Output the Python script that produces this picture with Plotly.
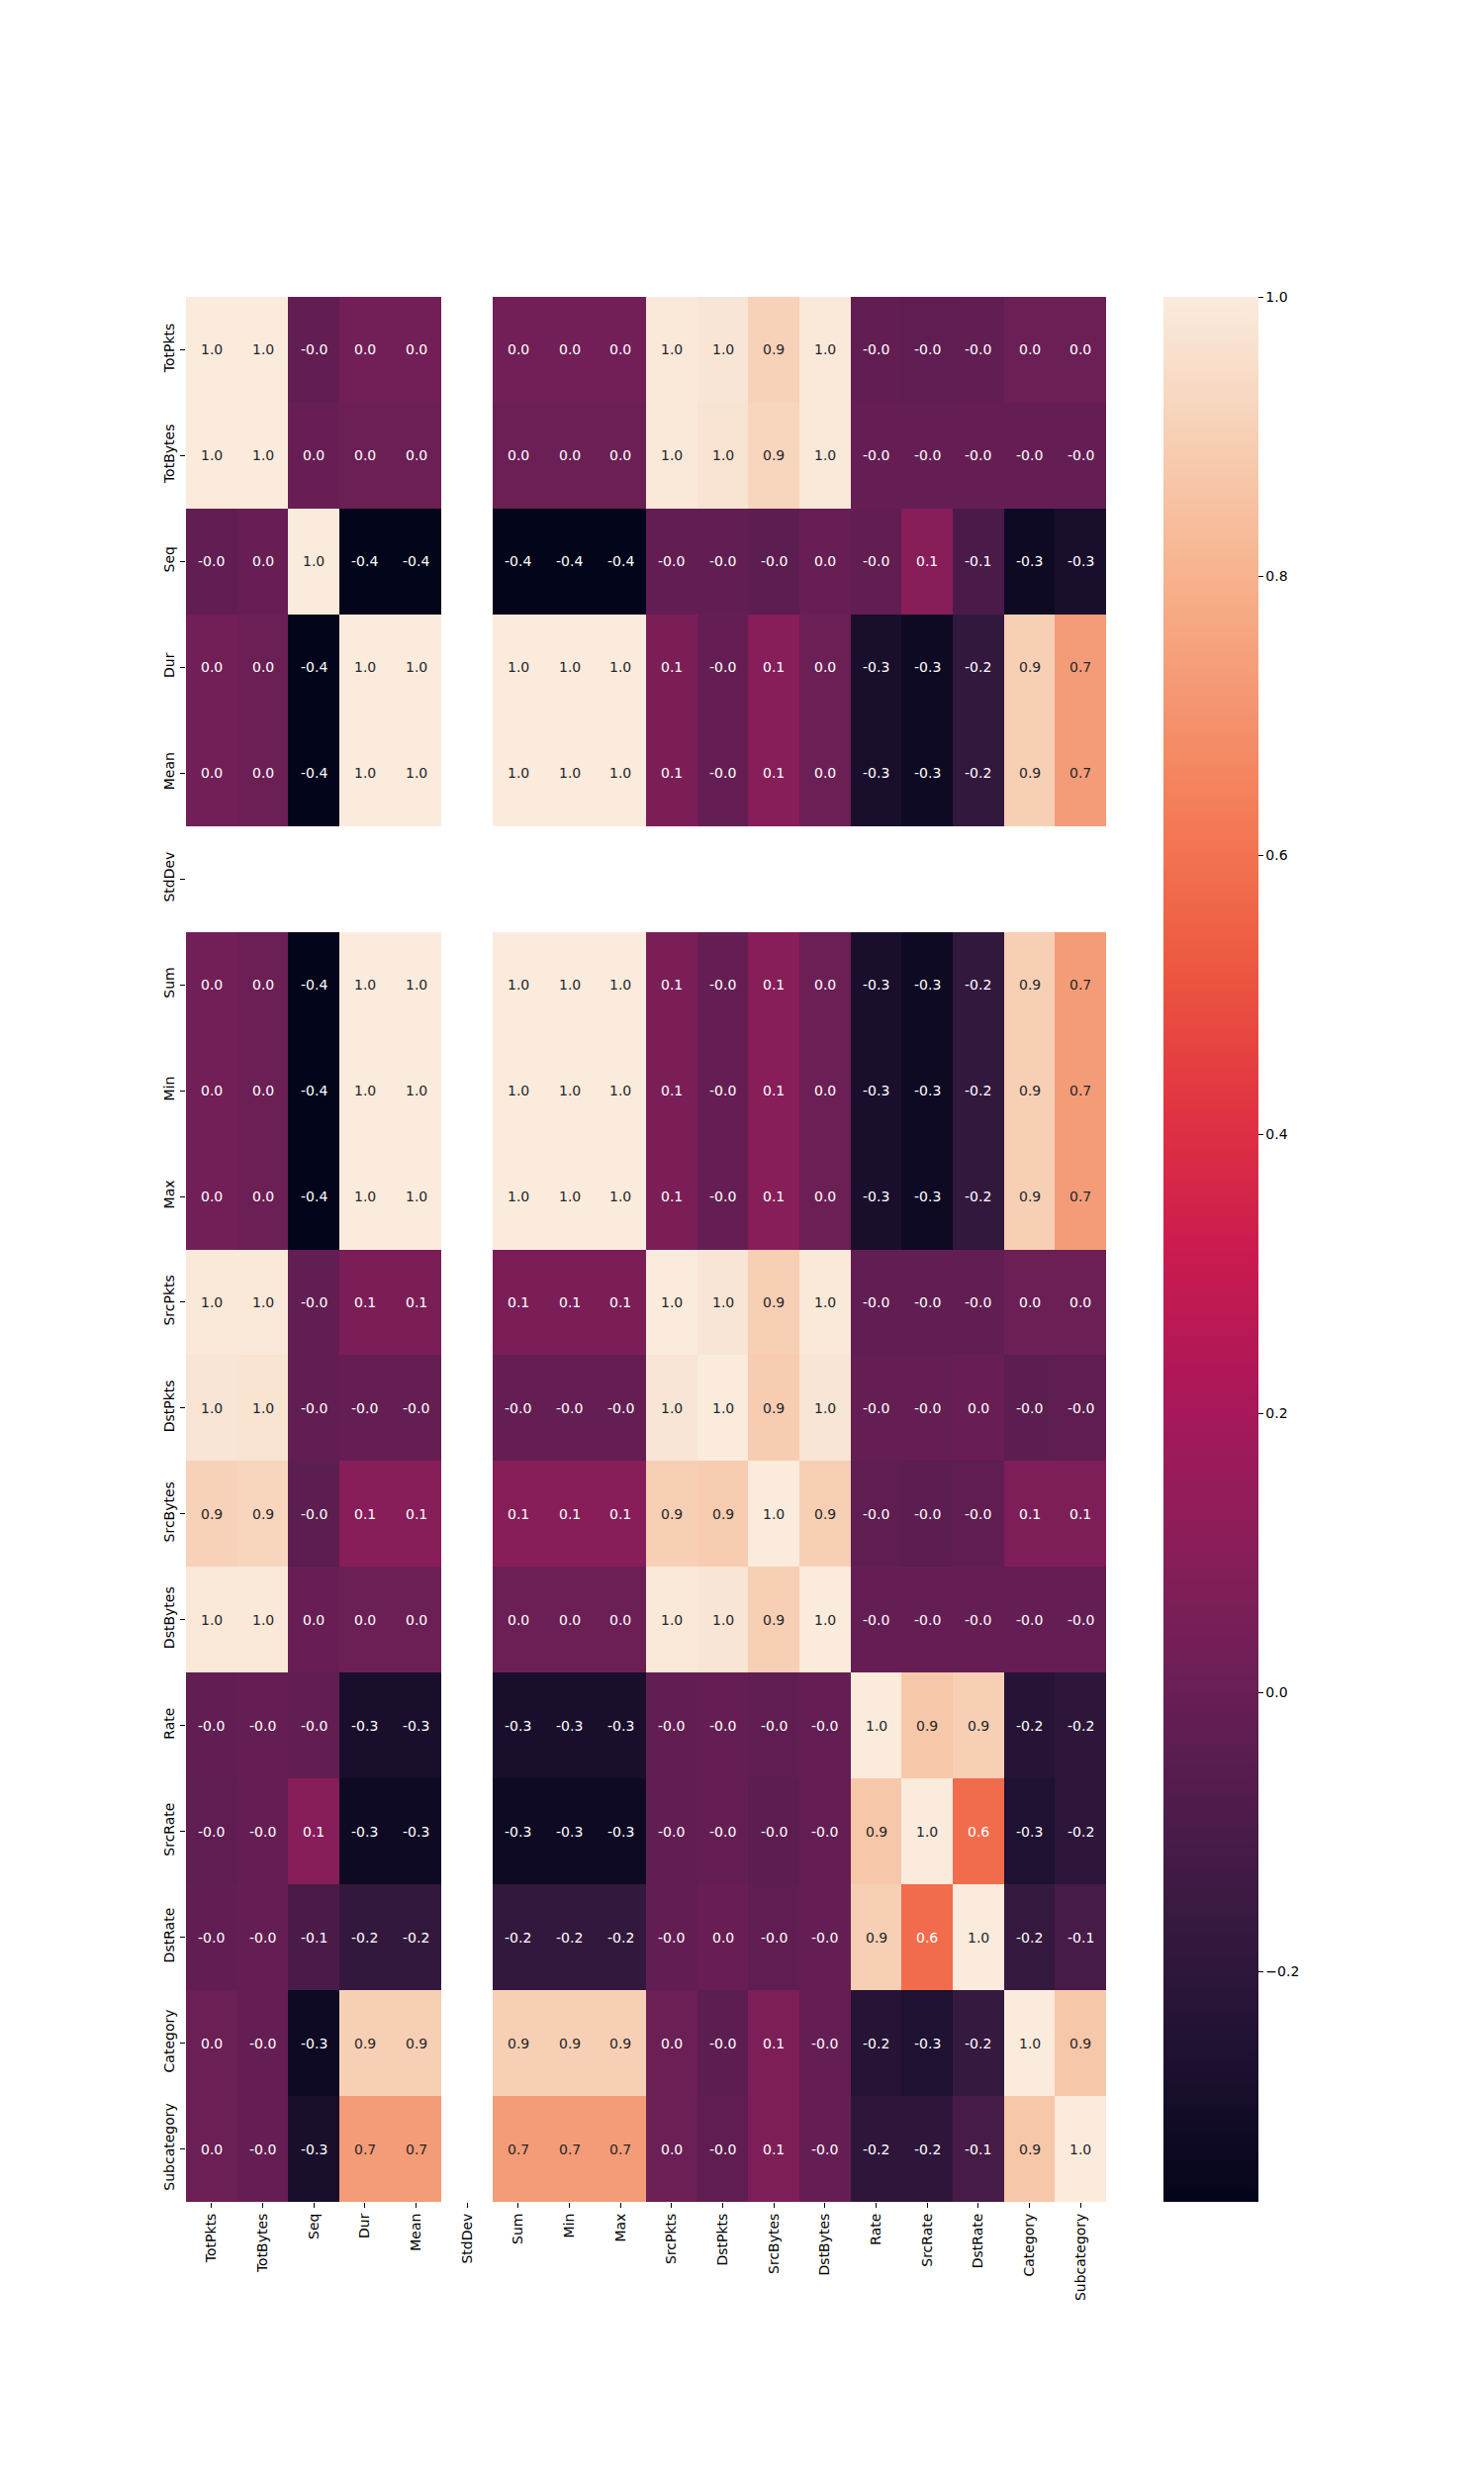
import numpy as np
import plotly.graph_objects as go
from plotly.colors import sample_colorscale, hex_to_rgb

labels = ["TotPkts", "TotBytes", "Seq", "Dur", "Mean", "StdDev", "Sum", "Min", "Max",
          "SrcPkts", "DstPkts", "SrcBytes", "DstBytes", "Rate", "SrcRate", "DstRate",
          "Category", "Subcategory"]

N = None  # StdDev is undefined (NaN)
row_TotPkts     = [1.00, 0.999, -0.02, 0.03, 0.03, N, 0.03, 0.03, 0.03, 0.99, 0.98, 0.91, 0.99, -0.02, -0.03, -0.02, 0.01, 0.01]
row_TotBytes    = [0.999, 1.00, 0.00, 0.01, 0.01, N, 0.01, 0.01, 0.01, 0.99, 0.97, 0.92, 0.99, -0.01, -0.01, -0.01, -0.01, -0.01]
row_Seq         = [-0.02, 0.00, 1.00, -0.365, -0.365, N, -0.365, -0.365, -0.365, -0.02, -0.02, -0.04, 0.00, -0.02, 0.10, -0.10, -0.32, -0.28]
row_Dur         = [0.03, 0.01, -0.365, 1.00, 1.00, N, 1.00, 1.00, 1.00, 0.06, -0.01, 0.10, 0.01, -0.28, -0.32, -0.18, 0.90, 0.73]
row_Mean        = [0.03, 0.01, -0.365, 1.00, 1.00, N, 1.00, 1.00, 1.00, 0.06, -0.01, 0.10, 0.01, -0.28, -0.32, -0.18, 0.90, 0.73]
row_StdDev      = [N] * 18
row_Sum         = [0.03, 0.01, -0.365, 1.00, 1.00, N, 1.00, 1.00, 1.00, 0.06, -0.01, 0.10, 0.01, -0.28, -0.32, -0.18, 0.90, 0.73]
row_Min         = [0.03, 0.01, -0.365, 1.00, 1.00, N, 1.00, 1.00, 1.00, 0.06, -0.01, 0.10, 0.01, -0.28, -0.32, -0.18, 0.90, 0.73]
row_Max         = [0.03, 0.01, -0.365, 1.00, 1.00, N, 1.00, 1.00, 1.00, 0.06, -0.01, 0.10, 0.01, -0.28, -0.32, -0.18, 0.90, 0.73]
row_SrcPkts     = [0.99, 0.99, -0.02, 0.06, 0.06, N, 0.06, 0.06, 0.06, 1.00, 0.98, 0.90, 0.99, -0.02, -0.02, -0.02, 0.01, 0.01]
row_DstPkts     = [0.98, 0.97, -0.02, -0.01, -0.01, N, -0.01, -0.01, -0.01, 0.98, 1.00, 0.89, 0.98, -0.01, -0.01, 0.00, -0.04, -0.03]
row_SrcBytes    = [0.91, 0.92, -0.04, 0.10, 0.10, N, 0.10, 0.10, 0.10, 0.90, 0.89, 1.00, 0.90, -0.03, -0.04, -0.03, 0.07, 0.07]
row_DstBytes    = [0.99, 0.99, 0.00, 0.01, 0.01, N, 0.01, 0.01, 0.01, 0.99, 0.98, 0.90, 1.00, -0.01, -0.01, -0.01, -0.01, -0.01]
row_Rate        = [-0.02, -0.01, -0.02, -0.28, -0.28, N, -0.28, -0.28, -0.28, -0.02, -0.01, -0.03, -0.01, 1.00, 0.87, 0.90, -0.23, -0.20]
row_SrcRate     = [-0.03, -0.01, 0.10, -0.32, -0.32, N, -0.32, -0.32, -0.32, -0.02, -0.01, -0.04, -0.01, 0.87, 1.00, 0.58, -0.26, -0.20]
row_DstRate     = [-0.02, -0.01, -0.10, -0.18, -0.18, N, -0.18, -0.18, -0.18, -0.02, 0.00, -0.03, -0.01, 0.90, 0.58, 1.00, -0.17, -0.11]
row_Category    = [0.01, -0.01, -0.32, 0.90, 0.90, N, 0.90, 0.90, 0.90, 0.01, -0.04, 0.07, -0.01, -0.23, -0.26, -0.17, 1.00, 0.87]
row_Subcategory = [0.01, -0.01, -0.28, 0.73, 0.73, N, 0.73, 0.73, 0.73, 0.01, -0.03, 0.07, -0.01, -0.20, -0.20, -0.11, 0.87, 1.00]

rows = [row_TotPkts, row_TotBytes, row_Seq, row_Dur, row_Mean, row_StdDev, row_Sum, row_Min, row_Max,
        row_SrcPkts, row_DstPkts, row_SrcBytes, row_DstBytes, row_Rate, row_SrcRate, row_DstRate,
        row_Category, row_Subcategory]

cbar_ticks = [-0.2, 0.0, 0.2, 0.4, 0.6, 0.8, 1.0]
cbar_ticktext = ["\u22120.2", "0.0", "0.2", "0.4", "0.6", "0.8", "1.0"]

rocket = [
    [0.0, "#03051a"], [0.0714, "#1c1030"], [0.1429, "#35193e"], [0.2143, "#521c4d"],
    [0.2857, "#701f57"], [0.3571, "#8e1d5a"], [0.4286, "#ad1759"], [0.5, "#cb1b4f"],
    [0.5714, "#e13342"], [0.6429, "#ec5540"], [0.7143, "#f37651"], [0.7857, "#f49570"],
    [0.8571, "#f6b48f"], [0.9286, "#f7d0b6"], [1.0, "#faebdd"],
]

z = np.array([[np.nan if v is None else v for v in r] for r in rows], dtype=float)
zmin, zmax = float(np.nanmin(z)), float(np.nanmax(z))

fig = go.Figure()
fig.add_trace(go.Heatmap(
    z=z, x=labels, y=labels, colorscale=rocket, zmin=zmin, zmax=zmax,
    hoverongaps=False,
    colorbar=dict(
        x=1.0624, xanchor="left", xpad=0, y=0.5, yanchor="middle", len=1.0, lenmode="fraction",
        thickness=96, thicknessmode="pixels", outlinewidth=0, ypad=0,
        tickvals=cbar_ticks, ticktext=cbar_ticktext, ticks="outside", ticklen=5,
        tickcolor="#000", tickwidth=1,
        tickfont=dict(family="DejaVu Sans", size=14, color="#000"),
    ),
))


def lum(rgb_str):
    s = rgb_str.strip()
    if s.startswith("#"):
        r, g, b = hex_to_rgb(s)
    else:
        r, g, b = [float(t) for t in s[s.index("(") + 1:s.index(")")].split(",")[:3]]
    out = []
    for c in (r, g, b):
        c = c / 255.0
        out.append(c / 12.92 if c <= 0.03928 else ((c + 0.055) / 1.055) ** 2.4)
    return 0.2126 * out[0] + 0.7152 * out[1] + 0.0722 * out[2]


annotations = []
for i, ry in enumerate(labels):
    for j, cx in enumerate(labels):
        v = z[i, j]
        if np.isnan(v):
            continue
        t = (v - zmin) / (zmax - zmin)
        col = sample_colorscale(rocket, [t])[0]
        tc = "#262626" if lum(col) > 0.408 else "#ffffff"
        annotations.append(dict(
            x=cx, y=ry, xref="x", yref="y", text=f"{v:.1f}", showarrow=False,
            font=dict(family="DejaVu Sans", size=14, color=tc),
        ))

fig.update_layout(
    width=1484, height=2484,
    margin=dict(l=180, r=374, t=292, b=267, autoexpand=False),
    paper_bgcolor="white", plot_bgcolor="white",
    annotations=annotations,
    xaxis=dict(
        tickangle=-90, ticks="outside", ticklen=5, tickcolor="#000", tickwidth=1,
        tickfont=dict(family="DejaVu Sans", size=14, color="#000"),
        showgrid=False, zeroline=False, showline=False,
    ),
    yaxis=dict(
        autorange="reversed", tickangle=-90, ticks="outside", ticklen=5, tickcolor="#000", tickwidth=1,
        tickfont=dict(family="DejaVu Sans", size=14, color="#000"),
        showgrid=False, zeroline=False, showline=False,
    ),
)

fig.write_html("out.html")
